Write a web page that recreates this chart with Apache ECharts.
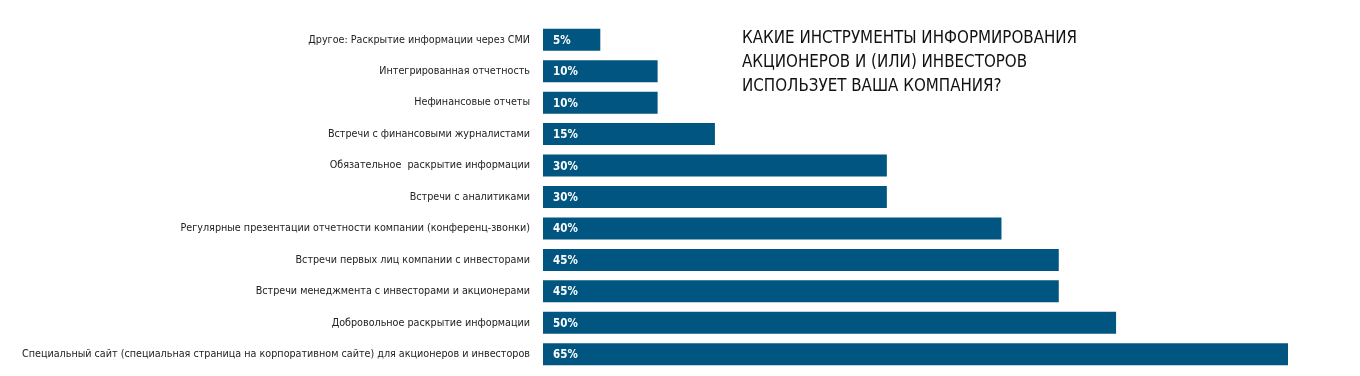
<!DOCTYPE html>
<html><head><meta charset="utf-8">
<script src="https://cdn.jsdelivr.net/npm/echarts@6/dist/echarts.min.js"></script>
<style>html,body{margin:0;padding:0;background:#fff}#c{width:1360px;height:376px}</style>
</head><body><div id="c"></div>
<script>
const categories = [
  "Другое: Раскрытие информации через СМИ",
  "Интегрированная отчетность",
  "Нефинансовые отчеты",
  "Встречи с финансовыми журналистами",
  "Обязательное  раскрытие информации",
  "Встречи с аналитиками",
  "Регулярные презентации отчетности компании (конференц-звонки)",
  "Встречи первых лиц компании с инвесторами",
  "Встречи менеджмента с инвесторами и акционерами",
  "Добровольное раскрытие информации",
  "Специальный сайт (специальная страница на корпоративном сайте) для акционеров и инвесторов"
];
const values = [5, 10, 10, 15, 30, 30, 40, 45, 45, 50, 65];
const titleLines = ["КАКИЕ ИНСТРУМЕНТЫ ИНФОРМИРОВАНИЯ", "АКЦИОНЕРОВ И (ИЛИ) ИНВЕСТОРОВ", "ИСПОЛЬЗУЕТ ВАША КОМПАНИЯ?"];

const narrow = "'DejaVu Sans Condensed', sans-serif";
const chart = echarts.init(document.getElementById('c'));
chart.setOption({
  animation: false,
  title: {
    text: titleLines.join('\n'),
    left: 737, top: 22,
    textStyle: { fontFamily: narrow, fontSize: 16.8, fontWeight: 'normal', color: '#111', lineHeight: 24 }
  },
  grid: { left: 543, right: 72, top: 24, height: 346, containLabel: false, outerBoundsMode: 'none' },
  xAxis: { type: 'value', min: 0, max: 65, show: false },
  yAxis: {
    type: 'category', data: categories, inverse: true,
    axisLine: { show: false }, axisTick: { show: false },
    axisLabel: { fontFamily: narrow, fontSize: 10.7, color: '#222', margin: 13 }
  },
  series: [{
    type: 'bar', data: values, barCategoryGap: '30%',
    itemStyle: { color: '#005680' },
    label: {
      show: true, position: 'insideLeft', offset: [0, 1], distance: 10,
      formatter: '{c}%', color: '#fff', fontFamily: narrow, fontSize: 11.5, fontWeight: 'bold'
    }
  }]
});
</script></body></html>
